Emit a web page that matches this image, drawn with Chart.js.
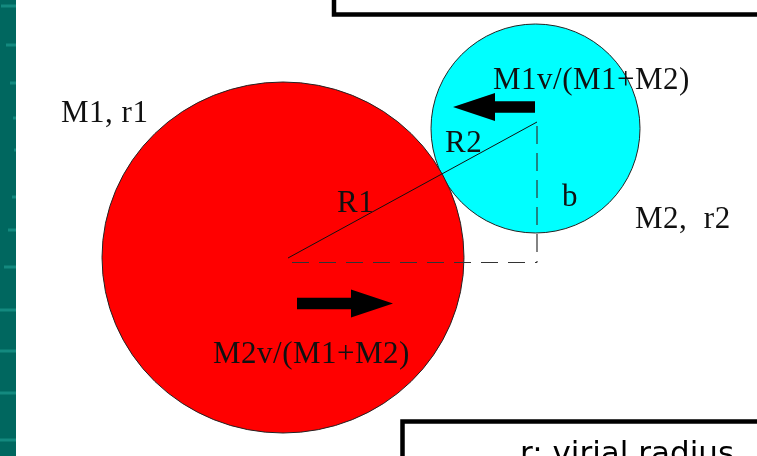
<!DOCTYPE html>
<html>
<head>
<meta charset="utf-8">
<script src="https://cdn.jsdelivr.net/npm/chart.js@4"></script>
<style>
html,body{margin:0;padding:0;background:#fff;overflow:hidden;}
#wrap{position:relative;width:757px;height:456px;}
</style>
</head>
<body>
<div id="wrap"><canvas id="c"></canvas></div>
<script>
// ---- diagram data (in drawing units) ----
const bodyNames   = ['M2', 'M1'];            // drawn in this order (M1 on top)
const bodyCx      = [535.5, 283];
const bodyCy      = [128.5, 257.5];
const bodyRx      = [104.5, 181];
const bodyRy      = [104.5, 175.5];
const bodyColors  = ['#00FFFF', '#FF0000'];

// separation line between centres (solid) and the dashed impact-parameter legs
const radiusLineX = [288, 537];
const radiusLineY = [258, 122];
const dashHX      = [292, 537];
const dashHY      = [262.5, 262.5];
const dashVX      = [537, 537];
const dashVY      = [126, 262.5];

// velocity arrows: tail x, tip x, y
const arrowTailX  = [535, 297];
const arrowTipX   = [453, 393];
const arrowY      = [107, 303.5];

// labels
const labelTexts  = ['M1, r1', 'M2,  r2', 'M1v/(M1+M2)', 'R2', 'R1', 'b', 'M2v/(M1+M2)'];
const labelX      = [61, 635, 493, 445, 337, 562, 213];
const labelY      = [122, 228, 89, 152, 212, 206, 363];
const noteText    = 'r: virial radius';
const noteX       = 520;
const noteY       = 442;

// frames (partially off-page boxes)
const topBoxX     = [334, 800];
const topBoxY     = [-20, 14.5];
const bottomBoxX  = [402.5, 800];
const bottomBoxY  = [421.5, 500];

// decorative side strip streaks (y, length)
const stripW      = 16;
const streakY     = [6, 45, 83, 118, 150, 197, 230, 267, 310, 351, 393, 440];
const streakLen   = [15, 10, 6, 3, 2, 4, 8, 12, 16, 16, 16, 16];

const diagram = {
  id: 'diagram',
  beforeDatasetsDraw(chart) {
    const {ctx, scales:{x, y}} = chart;
    ctx.save();
    // side strip
    ctx.fillStyle = '#00675F';
    ctx.fillRect(x.getPixelForValue(0), y.getPixelForValue(0), x.getPixelForValue(stripW) - x.getPixelForValue(0), y.getPixelForValue(456) - y.getPixelForValue(0));
    ctx.fillStyle = '#13897F';
    streakY.forEach((sy, i) => {
      const x0 = x.getPixelForValue(stripW - streakLen[i]);
      ctx.fillRect(x0, y.getPixelForValue(sy) - 1.5, x.getPixelForValue(stripW) - x0, 3);
    });
    // bodies
    bodyNames.forEach((n, i) => {
      const cx = x.getPixelForValue(bodyCx[i]);
      const cy = y.getPixelForValue(bodyCy[i]);
      const rx = Math.abs(x.getPixelForValue(bodyCx[i] + bodyRx[i]) - cx);
      const ry = Math.abs(y.getPixelForValue(bodyCy[i] + bodyRy[i]) - cy);
      ctx.beginPath();
      ctx.ellipse(cx, cy, rx, ry, 0, 0, Math.PI * 2);
      ctx.fillStyle = bodyColors[i];
      ctx.fill();
      ctx.lineWidth = 1;
      ctx.strokeStyle = '#222';
      ctx.stroke();
    });
    // frames
    ctx.lineWidth = 4.5;
    ctx.strokeStyle = '#000';
    [[topBoxX, topBoxY], [bottomBoxX, bottomBoxY]].forEach(([bx, by]) => {
      const x0 = x.getPixelForValue(bx[0]), x1 = x.getPixelForValue(bx[1]);
      const y0 = y.getPixelForValue(by[0]), y1 = y.getPixelForValue(by[1]);
      ctx.strokeRect(x0, y0, x1 - x0, y1 - y0);
    });
    ctx.restore();
  },
  afterDatasetsDraw(chart) {
    const {ctx, scales:{x, y}} = chart;
    ctx.save();
    // arrows
    ctx.fillStyle = '#000';
    arrowY.forEach((ay, i) => {
      const t = x.getPixelForValue(arrowTailX[i]);
      const p = x.getPixelForValue(arrowTipX[i]);
      const yy = y.getPixelForValue(ay);
      const dir = Math.sign(p - t);
      const headLen = 42, headHalf = 14, shaftHalf = 5.75;
      const hb = p - dir * headLen;
      ctx.beginPath();
      ctx.moveTo(t, yy - shaftHalf);
      ctx.lineTo(hb, yy - shaftHalf);
      ctx.lineTo(hb, yy - headHalf);
      ctx.lineTo(p, yy);
      ctx.lineTo(hb, yy + headHalf);
      ctx.lineTo(hb, yy + shaftHalf);
      ctx.lineTo(t, yy + shaftHalf);
      ctx.closePath();
      ctx.fill();
    });
    // labels
    ctx.font = '31px "Liberation Serif", "Times New Roman", serif';
    if ('letterSpacing' in ctx) ctx.letterSpacing = '0.5px';
    ctx.textBaseline = 'alphabetic';
    ctx.textAlign = 'left';
    ctx.fillStyle = '#111';
    labelTexts.forEach((t, i) => {
      ctx.fillText(t, x.getPixelForValue(labelX[i]), y.getPixelForValue(labelY[i]));
    });
    // note
    if ('letterSpacing' in ctx) ctx.letterSpacing = '0px';
    ctx.font = '31px "DejaVu Sans", Verdana, sans-serif';
    ctx.textBaseline = 'top';
    ctx.fillStyle = '#000';
    ctx.fillText(noteText, x.getPixelForValue(noteX), y.getPixelForValue(noteY) - 3);
    ctx.restore();
  }
};

const toPts = (xs, ys) => xs.map((v, i) => ({x: v, y: ys[i]}));

new Chart(document.getElementById('c'), {
  type: 'scatter',
  data: {
    datasets: [
      {label: 'R1+R2', data: toPts(radiusLineX, radiusLineY), showLine: true, borderColor: '#111', borderWidth: 1, pointRadius: 0},
      {label: 'dx', data: toPts(dashHX, dashHY), showLine: true, borderColor: '#333', borderWidth: 1.2, borderDash: [17, 10], pointRadius: 0},
      {label: 'b', data: toPts(dashVX, dashVY), showLine: true, borderColor: '#333', borderWidth: 1.2, borderDash: [18, 9], pointRadius: 0}
    ]
  },
  options: {
    responsive: true,
    maintainAspectRatio: false,
    animation: false,
    layout: {padding: 0},
    plugins: {legend: {display: false}, tooltip: {enabled: false}},
    scales: {
      x: {type: 'linear', min: 0, max: 757, display: false},
      y: {type: 'linear', min: 0, max: 456, reverse: true, display: false}
    }
  },
  plugins: [diagram]
});
</script>
</body>
</html>
